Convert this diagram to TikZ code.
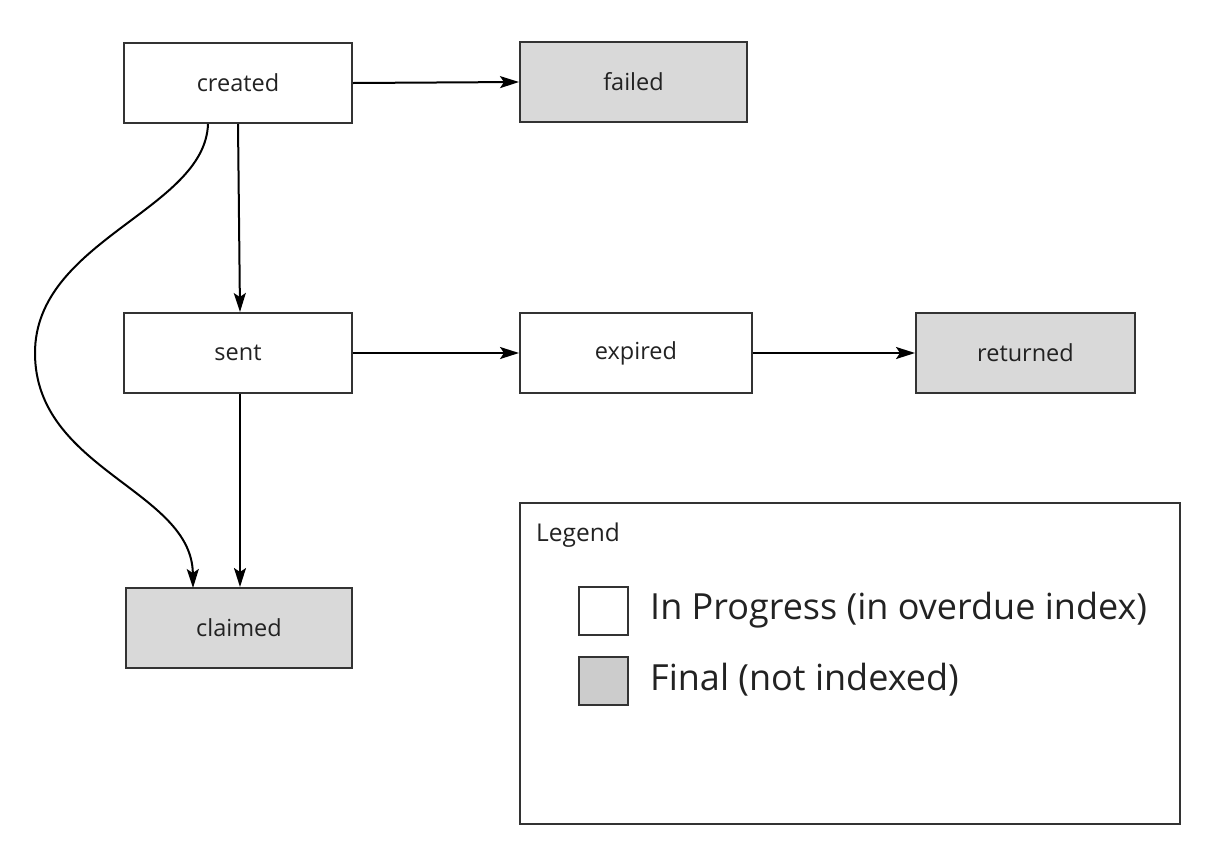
\documentclass[tikz,border=0pt]{standalone}
\usepackage{fontspec}
\setmainfont{Open Sans}
\usetikzlibrary{arrows.meta}
\definecolor{edge}{HTML}{333333}
\definecolor{finalfill}{HTML}{D9D9D9}
\definecolor{legfill}{HTML}{CCCCCC}
\definecolor{txt}{HTML}{222222}
\begin{document}
\begin{tikzpicture}[x=1pt,y=-1pt,
  state/.style={draw=edge,line width=2pt,minimum width=228pt,minimum height=80pt,inner sep=0pt,font=\fontsize{23.5}{28}\selectfont,text=txt},
  final/.style={state,fill=finalfill},
  conn/.style={line width=2pt,-{Stealth[length=19pt,width=12pt,inset=4pt]}},
  legsq/.style={draw=edge,line width=2pt,minimum width=49pt,minimum height=48pt,inner sep=0pt}]
\useasboundingbox (0,0) rectangle (1222,860);
\node[state] (created) at (238,83) {created};
\node[final,minimum width=227pt] (failed) at (633.5,82) {failed};
\node[state] (sent) at (238,353) {sent};
\node[state,minimum width=232pt] (expired) at (636,353) {expired};
\node[final,minimum width=219pt] (returned) at (1025.5,353) {returned};
\node[final,minimum width=226pt] (claimed) at (239,628) {claimed};
\draw[conn] (created.east) -- (failed.west);
\draw[conn] (created.south -| 238,0) -- (sent.north -| 240,0);
\draw[conn] (sent.east) -- (expired.west);
\draw[conn] (expired.east) -- (returned.west);
\draw[conn] (sent.south -| 240,0) -- (claimed.north -| 240,0);
\coordinate (cs) at (208,124);
\coordinate (cm) at (35,353);
\coordinate (ce) at (193,588);
\draw[conn] (cs) .. controls (205,210) and (35,240) .. (cm) .. controls (35,470) and (192,490) .. (ce);
% legend
\node[draw=edge,line width=2pt,minimum width=660pt,minimum height=321pt,inner sep=0pt] (legend) at (850,663.5) {};
\node[anchor=west,font=\fontsize{24.5}{29}\selectfont,text=txt,inner sep=0pt] (legtitle) at (536,535) {Legend};
\node[legsq,fill=white] (sqp) at (603.5,610.5) {};
\node[legsq,fill=legfill] (sqf) at (603.5,680.5) {};
\node[anchor=west,inner sep=0pt,text=txt,font=\fontsize{36}{42}\selectfont] (lp) at (650,610) {In Progress (in overdue index)};
\node[anchor=west,inner sep=0pt,text=txt,font=\fontsize{36}{42}\selectfont] (lf) at (650,680) {Final (not indexed)};
\end{tikzpicture}
\end{document}
